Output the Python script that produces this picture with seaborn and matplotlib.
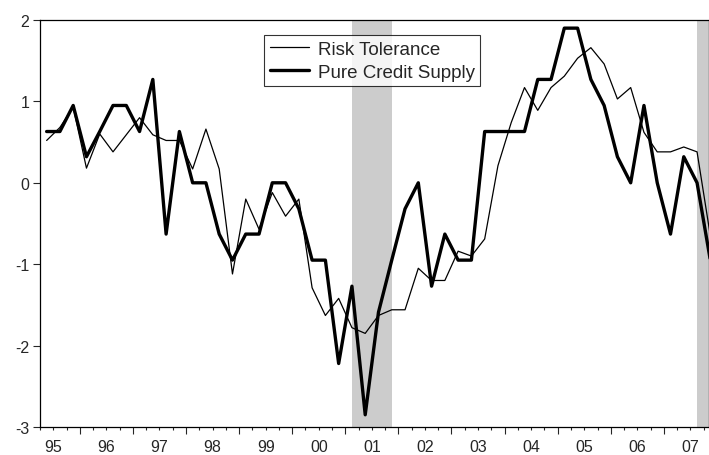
import pandas as pd
import matplotlib
matplotlib.use('Agg')
import matplotlib.pyplot as plt
import numpy as np
import seaborn as sns

# quarterly observations, 1995Q2 .. 2007Q4
first_year, first_q = 1995, 2
n_obs = 51

risk_tolerance = [0.52, 0.68, 0.93, 0.18, 0.60, 0.38, 0.59, 0.80, 0.59, 0.52,
                  0.52, 0.17, 0.66, 0.17, -1.12, -0.20, -0.57, -0.12, -0.41, -0.20,
                  -1.29, -1.63, -1.42, -1.78, -1.85, -1.63, -1.56, -1.56, -1.05, -1.20,
                  -1.20, -0.84, -0.90, -0.69, 0.21, 0.74, 1.17, 0.89, 1.17, 1.31,
                  1.53, 1.66, 1.46, 1.03, 1.17, 0.62, 0.38, 0.38, 0.44, 0.38,
                  -0.65]

credit_supply = [0.63, 0.63, 0.95, 0.32, 0.63, 0.95, 0.95, 0.63, 1.27, -0.63,
                 0.63, 0.00, 0.00, -0.63, -0.95, -0.63, -0.63, 0.00, 0.00, -0.32,
                 -0.95, -0.95, -2.22, -1.27, -2.85, -1.59, -0.95, -0.32, 0.00, -1.27,
                 -0.63, -0.95, -0.95, 0.63, 0.63, 0.63, 0.63, 1.27, 1.27, 1.90,
                 1.90, 1.27, 0.95, 0.32, 0.00, 0.95, 0.00, -0.63, 0.32, 0.00,
                 -0.95]

year_labels = ['95', '96', '97', '98', '99', '00', '01', '02', '03', '04', '05', '06', '07']
recessions = [(2001.125, 2001.875), (2007.625, 2008.5)]

# x position = centre of each quarter
idx = np.arange(n_obs) + (first_q - 1)
xpos = first_year + idx // 4 + (idx % 4) / 4 + 0.125

df = pd.DataFrame({'t': np.tile(xpos, 2),
                   'value': risk_tolerance + credit_supply,
                   'series': ['Risk Tolerance'] * n_obs + ['Pure Credit Supply'] * n_obs})

sns.set_style('ticks')
plt.rcParams['font.family'] = ['Liberation Sans', 'DejaVu Sans']
plt.rcParams['axes.unicode_minus'] = False

fig = plt.figure(figsize=(7.09, 4.56), dpi=100)
ax = fig.add_axes([40 / 709, 28 / 456, 669 / 709, 407 / 456])

for a, b in recessions:
    ax.axvspan(a, b, color='#cccccc', lw=0, zorder=0)

sns.lineplot(data=df, x='t', y='value', hue='series', size='series',
             sizes={'Risk Tolerance': 0.9, 'Pure Credit Supply': 2.4},
             palette={'Risk Tolerance': 'black', 'Pure Credit Supply': 'black'},
             ax=ax, zorder=3)

ax.set_xlim(1995.25, 2007.85)
ax.set_ylim(-3, 2)
ax.set_yticks([-3, -2, -1, 0, 1, 2])
ax.set_xlabel('')
ax.set_ylabel('')

years = np.arange(1996, 2008)
ax.set_xticks(years, labels=[''] * len(years))
quarters = np.arange(1995.25, 2008.0, 0.25)
quarters = quarters[(quarters % 1) != 0]
qlabels = []
for q in quarters:
    if abs(q % 1 - 0.5) < 1e-6:
        qlabels.append(year_labels[int(q) - 1995])
    else:
        qlabels.append('')
ax.set_xticks(quarters, labels=qlabels, minor=True)

ax.tick_params(axis='x', which='major', length=4.8, width=0.8, direction='out')
ax.tick_params(axis='x', which='minor', length=2.4, width=0.8, direction='out',
               pad=6, labelsize=11.5)
ax.tick_params(axis='y', length=4.8, width=0.8, labelsize=11.5, pad=3)

for s in ax.spines.values():
    s.set_linewidth(0.9)
    s.set_color('black')
    s.set_visible(True)

h, l = ax.get_legend_handles_labels()
leg = ax.legend(h, l, loc='upper left', bbox_to_anchor=(0.335, 0.963),
                borderaxespad=0, fontsize=13.5, frameon=True, fancybox=False,
                handlelength=2.1, handletextpad=0.45, labelspacing=0.3,
                borderpad=0.3)
leg.get_frame().set_edgecolor('black')
leg.get_frame().set_linewidth(0.8)

plt.savefig('out.png', dpi=100)
